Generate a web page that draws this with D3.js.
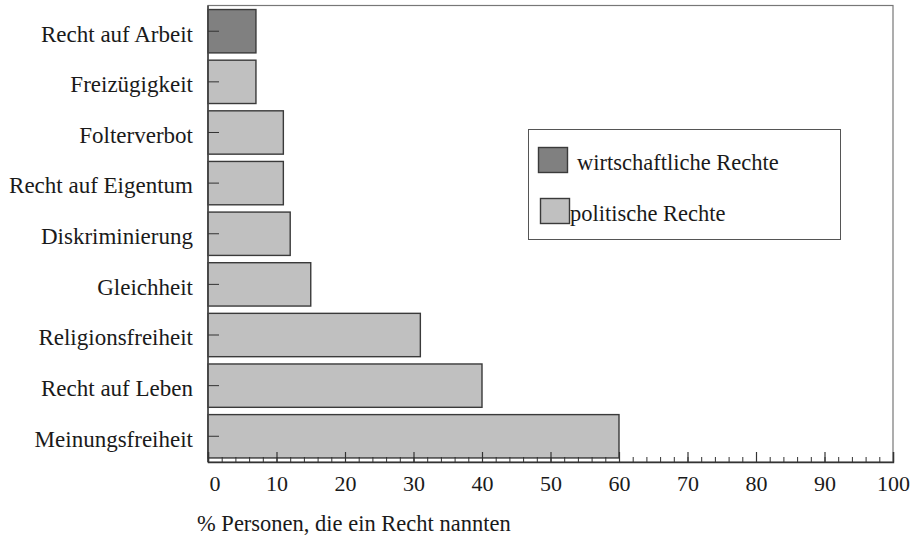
<!DOCTYPE html>
<html>
<head>
<meta charset="utf-8">
<script src="https://cdn.jsdelivr.net/npm/d3@7"></script>
</head>
<body style="margin:0">
<svg id="chart" width="912" height="537"></svg>
<script>
const categories = ["Recht auf Arbeit", "Freizügigkeit", "Folterverbot", "Recht auf Eigentum",
  "Diskriminierung", "Gleichheit", "Religionsfreiheit", "Recht auf Leben", "Meinungsfreiheit"];
const values = [7, 7, 11, 11, 12, 15, 31, 40, 60];
const groups = ["wirtschaftlich", "politisch", "politisch", "politisch", "politisch",
  "politisch", "politisch", "politisch", "politisch"];
const legendLabels = ["wirtschaftliche Rechte", "politische Rechte"];
const xTickValues = [0, 10, 20, 30, 40, 50, 60, 70, 80, 90, 100];
const xTitle = "% Personen, die ein Recht nannten";

const colors = { "wirtschaftlich": "#808080", "politisch": "#c0c0c0" };
const legendKeys = ["wirtschaftlich", "politisch"];
const FONT = '"Liberation Serif", "Times New Roman", Tinos, serif';
const TXT = "#1a1a1a";

const svg = d3.select("#chart");
const pLeft = 208, pRight = 893, pTop = 5.5, pBottom = 462;

const x = d3.scaleLinear().domain([0, 100]).range([pLeft, pRight]);
const y = d3.scaleBand().domain(categories).range([pTop, pBottom])
  .paddingInner(0.144).paddingOuter(0.08);

// frame
svg.append("rect")
  .attr("x", pLeft).attr("y", pTop)
  .attr("width", pRight - pLeft).attr("height", pBottom - pTop)
  .attr("fill", "none").attr("stroke", "#777").attr("stroke-width", 1.2);

// bars
svg.append("g").selectAll("rect").data(categories).join("rect")
  .attr("x", x(0))
  .attr("y", d => y(d))
  .attr("width", (d, i) => x(values[i]) - x(0))
  .attr("height", y.bandwidth())
  .attr("fill", (d, i) => colors[groups[i]])
  .attr("stroke", "#3a3a3a")
  .attr("stroke-width", 1.4);

// left axis line
svg.append("line").attr("x1", pLeft).attr("x2", pLeft).attr("y1", pTop).attr("y2", pBottom)
  .attr("stroke", "#444").attr("stroke-width", 1.6);

// y ticks (inward)
svg.append("g").selectAll("line").data(categories).join("line")
  .attr("x1", pLeft).attr("x2", pLeft + 11)
  .attr("y1", d => y(d) + y.bandwidth() / 2)
  .attr("y2", d => y(d) + y.bandwidth() / 2)
  .attr("stroke", "#333").attr("stroke-width", 1);

// y labels
svg.append("g").selectAll("text").data(categories).join("text")
  .attr("x", 193)
  .attr("y", d => y(d) + y.bandwidth() / 2)
  .attr("dy", "0.45em")
  .attr("text-anchor", "end")
  .style("font-family", FONT).style("font-size", "23px").style("fill", TXT)
  .text(d => d);

// x axis via d3.axisBottom, ticks pointing up
const minorTicks = d3.range(0, 101, 2);
const xAxisMinor = d3.axisBottom(x).tickValues(minorTicks).tickSize(-5).tickFormat("");
const xAxisMajor = d3.axisBottom(x).tickValues(xTickValues).tickSize(-10).tickPadding(0);

const gMinor = svg.append("g").attr("transform", `translate(0,${pBottom})`).call(xAxisMinor);
gMinor.select(".domain").remove();
gMinor.selectAll(".tick line").attr("stroke", "#333").attr("stroke-width", 1);

const gMajor = svg.append("g").attr("transform", `translate(0,${pBottom})`).call(xAxisMajor);
gMajor.attr("font-family", null).attr("font-size", null);
gMajor.select(".domain").attr("stroke", "#333").attr("stroke-width", 1.4);
gMajor.selectAll(".tick line").attr("stroke", "#333").attr("stroke-width", 1.2);
gMajor.selectAll(".tick text")
  .attr("y", 29).attr("dy", 0)
  .attr("x", d => d === 0 ? 1 : 0)
  .attr("text-anchor", d => d === 0 ? "start" : "middle")
  .style("font-family", FONT).style("font-size", "22px").style("fill", TXT);

// x title
svg.append("text")
  .attr("x", 197).attr("y", 531)
  .style("font-family", FONT).style("font-size", "22.5px").style("fill", TXT)
  .text(xTitle);

// legend
const lg = svg.append("g");
lg.append("rect").attr("x", 528.5).attr("y", 129.5).attr("width", 312).attr("height", 110)
  .attr("fill", "#fff").attr("stroke", "#555").attr("stroke-width", 1);
const swX = [538.5, 540.5], swY = [147.5, 198.5], txX = [577, 570], txY = [170, 221];
lg.selectAll("rect.sw").data(legendKeys).join("rect").attr("class", "sw")
  .attr("x", (d, i) => swX[i]).attr("y", (d, i) => swY[i])
  .attr("width", 29).attr("height", 25)
  .attr("fill", d => colors[d]).attr("stroke", "#3a3a3a").attr("stroke-width", 1.4);
lg.selectAll("text").data(legendLabels).join("text")
  .attr("x", (d, i) => txX[i]).attr("y", (d, i) => txY[i])
  .style("font-family", FONT).style("font-size", "22.5px").style("fill", TXT)
  .text(d => d);

svg.selectAll("text").each(function () { this.getComputedTextLength(); });
</script>
</body>
</html>
